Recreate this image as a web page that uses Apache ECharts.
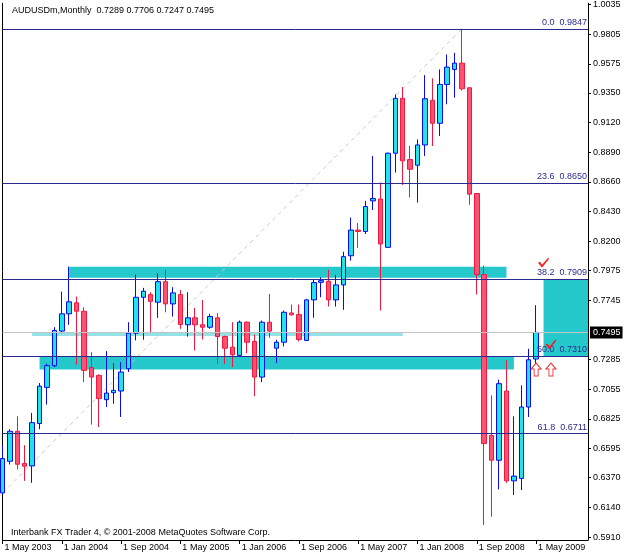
<!DOCTYPE html>
<html>
<head>
<meta charset="utf-8">
<script src="https://cdn.jsdelivr.net/npm/echarts@6/dist/echarts.min.js"></script>
<style>
html, body { margin: 0; padding: 0; background: #fff; }
#chart { width: 625px; height: 556px; }
</style>
</head>
<body>
<div id="chart"></div>
<script>
// months on the x axis (last 7 are the empty space right of the last bar)
const months = [
    'May 2003','Jun 2003','Jul 2003','Aug 2003','Sep 2003','Oct 2003','Nov 2003','Dec 2003',
    'Jan 2004','Feb 2004','Mar 2004','Apr 2004','May 2004','Jun 2004','Jul 2004','Aug 2004',
    'Sep 2004','Oct 2004','Nov 2004','Dec 2004','Jan 2005','Feb 2005','Mar 2005','Apr 2005',
    'May 2005','Jun 2005','Jul 2005','Aug 2005','Sep 2005','Oct 2005','Nov 2005','Dec 2005',
    'Jan 2006','Feb 2006','Mar 2006','Apr 2006','May 2006','Jun 2006','Jul 2006','Aug 2006',
    'Sep 2006','Oct 2006','Nov 2006','Dec 2006','Jan 2007','Feb 2007','Mar 2007','Apr 2007',
    'May 2007','Jun 2007','Jul 2007','Aug 2007','Sep 2007','Oct 2007','Nov 2007','Dec 2007',
    'Jan 2008','Feb 2008','Mar 2008','Apr 2008','May 2008','Jun 2008','Jul 2008','Aug 2008',
    'Sep 2008','Oct 2008','Nov 2008','Dec 2008','Jan 2009','Feb 2009','Mar 2009','Apr 2009',
    'May 2009','Jun 2009','Jul 2009','Aug 2009','Sep 2009','Oct 2009','Nov 2009','Dec 2009'
];
const opens = [
    0.6252,0.6497,0.6729,0.6480,0.6461,0.6789,0.7069,0.7237,0.7505,0.7639,0.7724,0.7659,
    0.7222,0.7162,0.6974,0.7028,0.7041,0.7214,0.7489,0.7767,0.7788,0.7729,0.7888,0.7716,
    0.7788,0.7554,0.7608,0.7554,0.7535,0.7608,0.7463,0.7381,0.7317,0.7574,0.7425,0.7149,
    0.7574,0.7373,0.7419,0.7646,0.7633,0.7433,0.7747,0.7883,0.7891,0.7747,0.7863,0.8089,
    0.8288,0.8277,0.8514,0.8528,0.8154,0.8883,0.9308,0.8834,0.8790,0.8947,0.9293,0.9115,
    0.9416,0.9532,0.9581,0.9390,0.8571,0.7943,0.6698,0.6505,0.7041,0.6345,0.6364,0.6917,
    0.7289
];
const highs = [
    0.6621,0.6745,0.6845,0.6621,0.6871,0.7103,0.7252,0.7535,0.7811,0.8004,0.7773,0.7690,
    0.7342,0.7170,0.7350,0.7257,0.7265,0.7574,0.7943,0.7840,0.7806,0.7953,0.7979,0.7845,
    0.7824,0.7806,0.7685,0.7747,0.7639,0.7644,0.7470,0.7574,0.7587,0.7580,0.7479,0.7587,
    0.7793,0.7438,0.7664,0.7711,0.7711,0.7755,0.7904,0.7922,0.7979,0.7940,0.8120,0.8385,
    0.8342,0.8514,0.8862,0.8656,0.8888,0.9339,0.9395,0.8939,0.8990,0.9488,0.9463,0.9532,
    0.9648,0.9661,0.9847,0.9390,0.8571,0.8012,0.7007,0.7129,0.7278,0.6845,0.7085,0.7368,
    0.7706
];
const lows = [
    0.6240,0.6472,0.6433,0.6345,0.6330,0.6745,0.6936,0.7226,0.7489,0.7554,0.7245,0.7110,
    0.6781,0.6762,0.6917,0.6943,0.6840,0.7188,0.7433,0.7438,0.7489,0.7608,0.7651,0.7618,
    0.7523,0.7463,0.7355,0.7440,0.7523,0.7252,0.7252,0.7226,0.7309,0.7334,0.7000,0.7110,
    0.7453,0.7257,0.7386,0.7626,0.7425,0.7430,0.7608,0.7767,0.7695,0.7695,0.7670,0.8051,
    0.8149,0.8257,0.8443,0.7664,0.8149,0.8733,0.8638,0.8540,0.8501,0.8862,0.8939,0.9017,
    0.9262,0.9313,0.9370,0.8484,0.7788,0.6003,0.6067,0.6279,0.6330,0.6235,0.6273,0.6840,
    0.7247
];
const closes = [
    0.6518,0.6729,0.6474,0.6459,0.6796,0.7079,0.7237,0.7510,0.7639,0.7732,0.7659,0.7201,
    0.7149,0.6982,0.7025,0.7046,0.7188,0.7489,0.7767,0.7814,0.7736,0.7888,0.7716,0.7801,
    0.7556,0.7608,0.7554,0.7535,0.7618,0.7463,0.7373,0.7322,0.7574,0.7419,0.7149,0.7574,
    0.7505,0.7419,0.7651,0.7631,0.7440,0.7747,0.7881,0.7896,0.7747,0.7863,0.8082,0.8288,
    0.8277,0.8470,0.8532,0.8180,0.8883,0.9308,0.8824,0.8759,0.8947,0.9305,0.9115,0.9416,
    0.9550,0.9581,0.9382,0.8566,0.7943,0.6634,0.6505,0.7098,0.6345,0.6382,0.6917,0.7283,
    0.7495
];
// price scale labels (0.7515 is hidden under the bid box)
const yTicks = [1.0035,0.9805,0.9575,0.9350,0.9120,0.8890,0.8660,0.8430,0.8200,0.7975,
    0.7745,0.7285,0.7055,0.6825,0.6595,0.6370,0.6140,0.5910];
const yMin = 0.5887;
const yMax = 1.0045;

// fibonacci levels
const fibLevels = ['0.0', '23.6', '38.2', '50.0', '61.8'];
const fibPrices = [0.9847, 0.8650, 0.7909, 0.7310, 0.6711];
const bidPrice = 0.7495;

// rectangles: from month, to month, low, high
const zoneFrom = ['Feb 2004', 'Oct 2003', 'Sep 2003', 'Jun 2009'];
const zoneTo = ['Jan 2009', 'Feb 2009', 'Nov 2007', 'Dec 2009'];
const zoneLow = [0.7919, 0.7208, 0.7468, 0.7310];
const zoneHigh = [0.8004, 0.7310, 0.7490, 0.7909];

// fibo trend line end points
const trendMonths = ['May 2003', 'Jul 2008'];
const trendPrices = [0.6250, 0.9847];

// check marks and arrows
const checkMonths = ['Jun 2009', 'Jul 2009'];
const checkPrices = [0.8035, 0.7402];
const arrowMonths = ['May 2009', 'Jul 2009'];
const arrowPrices = [0.7208, 0.7208];

const title = 'AUDUSDm,Monthly  0.7289 0.7706 0.7247 0.7495';
const footer = 'Interbank FX Trader 4, \u00a9 2001-2008 MetaQuotes Software Corp.';

const font = 'Liberation Sans';
const navy = '#2a2a8e';

let candles = opens.map(function(o, i) {
    return [o, closes[i], lows[i], highs[i]];
});

let zoneColors = ['#26c9cb', '#26c9cb', '#93e2e6', '#26c9cb'];
let zones = zoneFrom.map(function(f, i) {
    return [
        { xAxis: f, yAxis: zoneLow[i], itemStyle: { color: zoneColors[i], opacity: 1 } },
        { xAxis: zoneTo[i], yAxis: zoneHigh[i] }
    ];
});

let fibLines = fibPrices.map(function(p, i) {
    return {
        yAxis: p,
        label: { formatter: fibLevels[i] + '  ' + p.toFixed(4) }
    };
});

let chart = echarts.init(document.getElementById('chart'));
let option = {
    animation: false,
    backgroundColor: '#fff',
    title: [{
        text: title,
        left: 7, top: 1,
        textStyle: { fontFamily: font, fontSize: 9, fontWeight: 'normal', color: '#000' }
    }, {
        text: footer,
        left: 6, top: 523,
        textStyle: { fontFamily: font, fontSize: 9, fontWeight: 'normal', color: '#000' }
    }],
    grid: { left: 2.5, right: 37, top: 2, bottom: 16 },
    xAxis: {
        type: 'category',
        data: months,
        boundaryGap: false,
        axisLine: { lineStyle: { color: '#000', width: 1 } },
        axisTick: { interval: 7, length: 4, lineStyle: { color: '#000' } },
        axisLabel: {
            interval: 7,
            align: 'left',
            margin: 3,
            padding: [0, 0, 0, 2],
            fontFamily: font, fontSize: 9, color: '#000',
            formatter: function(v) { return '1 ' + v; }
        },
        splitLine: { show: false }
    },
    yAxis: [{
        type: 'value',
        position: 'right',
        min: yMin, max: yMax,
        axisLine: { show: true, lineStyle: { color: '#000', width: 1 } },
        axisTick: { show: true, length: 3, customValues: yTicks, lineStyle: { color: '#000' } },
        axisLabel: {
            customValues: yTicks,
            margin: 5,
            fontFamily: font, fontSize: 9, color: '#000',
            formatter: function(v) { return v.toFixed(4); }
        },
        splitLine: { show: false }
    }, {
        type: 'value',
        position: 'left',
        min: yMin, max: yMax,
        axisLine: { show: true, lineStyle: { color: '#000', width: 1 } },
        axisTick: { show: false },
        axisLabel: { show: false },
        splitLine: { show: false }
    }],
    series: [{
        name: 'trend',
        type: 'line',
        z: 1,
        data: trendMonths.map(function(m, i) { return [m, trendPrices[i]]; }),
        symbol: 'none',
        lineStyle: { color: '#c8c8c8', width: 1, type: [4, 4] },
        markArea: { silent: true, data: zones }
    }, {
        name: 'AUDUSDm',
        type: 'candlestick',
        z: 3,
        data: candles,
        barWidth: 5,
        itemStyle: {
            color: '#1fe4ee',
            color0: '#ff5273',
            borderColor: '#0a0af0',
            borderColor0: '#f0183f',
            borderWidth: 1
        }
    }, {
        name: 'levels',
        type: 'line',
        z: 4,
        data: [],
        markLine: {
            silent: true,
            precision: 4,
            symbol: 'none',
            lineStyle: { color: navy, width: 1, type: 'solid' },
            label: {
                position: 'insideEndTop',
                distance: [1, 2],
                fontFamily: font, fontSize: 9, color: navy
            },
            data: fibLines
        }
    }, {
        name: 'bid',
        type: 'line',
        z: 2,
        data: [],
        markLine: {
            silent: true,
            precision: 4,
            symbol: 'none',
            lineStyle: { color: '#c4c4c4', width: 1, type: 'solid' },
            label: {
                position: 'end',
                distance: 2,
                formatter: bidPrice.toFixed(4),
                backgroundColor: '#000',
                color: '#fff',
                padding: [2, 2, 1, 3],
                fontFamily: font, fontSize: 9
            },
            data: [{ yAxis: bidPrice }]
        }
    }, {
        name: 'checks',
        type: 'scatter',
        z: 5,
        data: checkMonths.map(function(m, i) { return [m, checkPrices[i]]; }),
        symbol: 'path://M0,5 L2,4 L4,7 L10,0 L11,1 L4,10 Z',
        symbolSize: [11, 10],
        itemStyle: { color: '#f02020', opacity: 1 }
    }, {
        name: 'arrows',
        type: 'scatter',
        z: 5,
        data: arrowMonths.map(function(m, i) { return [m, arrowPrices[i]]; }),
        symbol: 'path://M5,0 L10,6 L7,6 L7,13 L3,13 L3,6 L0,6 Z',
        symbolSize: [10, 13],
        itemStyle: { color: '#fff', borderColor: '#f03030', borderWidth: 1, opacity: 1 }
    }]
};
chart.setOption(option);
</script>
</body>
</html>
